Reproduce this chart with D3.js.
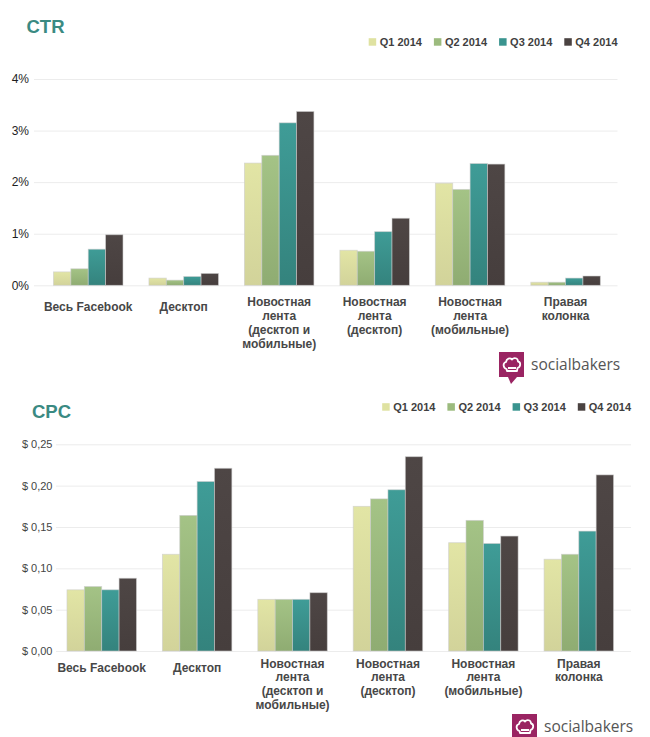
<!DOCTYPE html>
<html>
<head>
<meta charset="utf-8">
<script src="https://cdn.jsdelivr.net/npm/d3@7"></script>
<style>
  html, body { margin: 0; padding: 0; background: #ffffff; }
  svg { display: block; }
</style>
</head>
<body>
<svg id="chart" width="650" height="737"></svg>
<script>
// ---------- DATA ----------
const categories = [
  "Весь Facebook",
  "Десктоп",
  "Новостная\nлента\n(десктоп и\nмобильные)",
  "Новостная\nлента\n(десктоп)",
  "Новостная\nлента\n(мобильные)",
  "Правая\nколонка"
];
const seriesNames = ["Q1 2014", "Q2 2014", "Q3 2014", "Q4 2014"];

// CTR, percent
const ctrQ1 = [0.26, 0.14, 2.37, 0.68, 1.98, 0.06];
const ctrQ2 = [0.32, 0.10, 2.52, 0.66, 1.86, 0.06];
const ctrQ3 = [0.70, 0.17, 3.15, 1.04, 2.36, 0.14];
const ctrQ4 = [0.98, 0.23, 3.37, 1.30, 2.35, 0.18];
const ctrTickValues = [0, 1, 2, 3, 4];
const ctrTickLabels = ["0%", "1%", "2%", "3%", "4%"];

// CPC, USD
const cpcQ1 = [0.074, 0.117, 0.0625, 0.175, 0.131, 0.111];
const cpcQ2 = [0.078, 0.164, 0.0625, 0.184, 0.158, 0.117];
const cpcQ3 = [0.074, 0.205, 0.0625, 0.195, 0.130, 0.145];
const cpcQ4 = [0.088, 0.221, 0.0705, 0.235, 0.139, 0.213];
const cpcTickValues = [0, 0.05, 0.10, 0.15, 0.20, 0.25];
const cpcTickLabels = ["$ 0,00", "$ 0,05", "$ 0,10", "$ 0,15", "$ 0,20", "$ 0,25"];

// ---------- STYLE ----------
const gradTop    = ["#e2e5a5", "#a4c386", "#3f9c97", "#4e4645"];
const gradBottom = ["#d2d39a", "#8fac72", "#34837d", "#463e3d"];
const legendFill = ["#dfe2a1", "#9cbb7e", "#3a948f", "#4a4241"];
const FONT = "'Liberation Sans', Arial, Helvetica, sans-serif";

const svg = d3.select("#chart");
const defs = svg.append("defs");
seriesNames.forEach((s, i) => {
  const g = defs.append("linearGradient")
    .attr("id", "grad" + i)
    .attr("x1", 0).attr("y1", 0).attr("x2", 0).attr("y2", 1);
  g.append("stop").attr("offset", "0%").attr("stop-color", gradTop[i]);
  g.append("stop").attr("offset", "100%").attr("stop-color", gradBottom[i]);
});

function drawChart(cfg) {
  const root = svg.append("g");
  const values = cfg.values;

  // title
  root.append("text")
    .attr("x", cfg.titleX).attr("y", cfg.titleY)
    .attr("font-family", FONT).attr("font-size", 18.5).attr("font-weight", "bold")
    .attr("fill", "#3a8a82")
    .text(cfg.title);

  // scales
  const x0 = d3.scaleBand().domain(categories.map((c, i) => i))
    .range([cfg.xStart, cfg.xEnd]).paddingInner(0.272).paddingOuter(0.136);
  const x1 = d3.scaleBand().domain(seriesNames.map((s, i) => i))
    .range([0, x0.bandwidth()]).padding(0);
  const y = d3.scaleLinear().domain(cfg.yDomain).range([cfg.yBottom, cfg.yTop]);

  // axis with gridlines
  const axis = d3.axisLeft(y)
    .tickValues(cfg.tickValues)
    .tickFormat((d, i) => cfg.tickLabels[i])
    .tickSize(-(cfg.gridEnd - cfg.gridStart))
    .tickPadding(cfg.tickPadding);
  const ag = root.append("g")
    .attr("transform", `translate(${cfg.gridStart},0)`)
    .call(axis);
  ag.select(".domain").remove();
  ag.selectAll(".tick line").attr("stroke", "#ececec").attr("stroke-width", 1);
  ag.selectAll(".tick text")
    .attr("font-family", FONT).attr("font-size", cfg.tickFontSize)
    .attr("fill", cfg.tickColor);

  // bars
  const groups = root.append("g").selectAll("g")
    .data(categories.map((c, i) => i))
    .join("g")
    .attr("transform", d => `translate(${x0(d)},0)`);
  groups.selectAll("rect")
    .data(ci => values.map((arr, si) => ({ si, v: arr[ci] })))
    .join("rect")
    .attr("x", d => x1(d.si))
    .attr("y", d => y(d.v))
    .attr("width", x1.bandwidth())
    .attr("height", d => y(0) - y(d.v))
    .attr("fill", d => `url(#grad${d.si})`)
    .attr("stroke", "rgba(205,205,205,0.7)")
    .attr("stroke-width", 0.8);

  // category labels
  const lab = root.append("g").selectAll("text")
    .data(categories)
    .join("text")
    .attr("font-family", FONT).attr("font-size", 12).attr("font-weight", "bold")
    .attr("fill", "#474747")
    .attr("text-anchor", "middle")
    .attr("transform", (d, i) => {
      const lines = d.split("\n").length;
      const yy = y(0) + cfg.labelOffset + (lines === 1 ? 4.5 : 0);
      return `translate(${x0(i) + x0.bandwidth() / 2},${yy})`;
    });
  lab.selectAll("tspan")
    .data(d => d.split("\n"))
    .join("tspan")
    .attr("x", 0)
    .attr("dy", (d, i) => i === 0 ? 0 : 13.8)
    .text(d => d);

  // legend, right-aligned to gridEnd
  const lg = root.append("g");
  const items = seriesNames.map((s, i) => {
    const g = lg.append("g");
    g.append("rect").attr("x", 0).attr("y", -3.8).attr("width", 7.5).attr("height", 7.5)
      .attr("fill", legendFill[i]);
    const t = g.append("text").attr("x", 11).attr("y", 4)
      .attr("font-family", FONT).attr("font-size", 11).attr("font-weight", "bold")
      .attr("fill", "#3f3f3f").text(s);
    return { g, w: 11 + t.node().getComputedTextLength() };
  });
  const gap = 12;
  const total = d3.sum(items, d => d.w) + gap * (items.length - 1);
  let cx = cfg.gridEnd - total;
  items.forEach(it => {
    it.g.attr("transform", `translate(${cx},${cfg.legendY})`);
    cx += it.w + gap;
  });
}

function drawLogo(x, y) {
  const g = svg.append("g").attr("transform", `translate(${x},${y})`);
  g.append("rect").attr("x", 0).attr("y", 0).attr("width", 25).attr("height", 25).attr("fill", "#9a2462");
  g.append("path").attr("d", "M9,25 L18,25 L12,32 Z").attr("fill", "#9a2462");
  // chef hat outline
  g.append("path")
    .attr("d", "M7.5,17 C4,16 3.5,11 7,10 C7.5,6.5 11,5.5 13,7.5 C15,5 19,6 19,9.5 C22,10 22,15 18.5,16 L18,19 L8,19 Z M9,16 L17,16")
    .attr("fill", "none").attr("stroke", "#ffffff").attr("stroke-width", 1.8)
    .attr("stroke-linejoin", "round");
  g.append("text").attr("x", 32).attr("y", 18)
    .attr("font-family", "'Open Sans', 'DejaVu Sans', sans-serif").attr("font-size", 15.5)
    .attr("fill", "#555555").text("socialbakers");
}

drawChart({
  title: "CTR", titleX: 26.5, titleY: 33,
  values: [ctrQ1, ctrQ2, ctrQ3, ctrQ4],
  xStart: 40.5, xEnd: 613.3,
  yDomain: [0, 4], yBottom: 285.3, yTop: 79,
  gridStart: 34, gridEnd: 617.5,
  tickValues: ctrTickValues, tickLabels: ctrTickLabels,
  tickPadding: 5, tickFontSize: 12, tickColor: "#1e1e1e",
  labelOffset: 21, legendY: 42
});

drawChart({
  title: "CPC", titleX: 32, titleY: 418,
  values: [cpcQ1, cpcQ2, cpcQ3, cpcQ4],
  xStart: 54, xEnd: 626.5,
  yDomain: [0, 0.25], yBottom: 651, yTop: 444.3,
  gridStart: 56, gridEnd: 631,
  tickValues: cpcTickValues, tickLabels: cpcTickLabels,
  tickPadding: 3.5, tickFontSize: 11, tickColor: "#444444",
  labelOffset: 16.5, legendY: 407
});

drawLogo(499, 352);
drawLogo(512, 714);
</script>
</body>
</html>
